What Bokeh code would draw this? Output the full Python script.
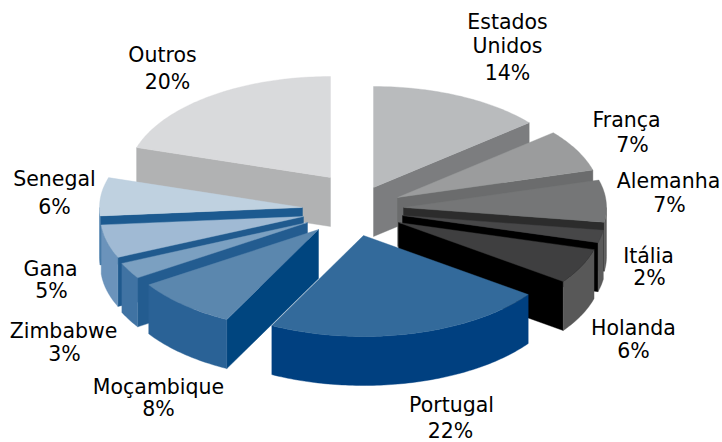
from math import sin, cos, radians
from bokeh.plotting import figure
from bokeh.models import ColumnDataSource, Range1d
from bokeh.core.properties import value
from bokeh.embed import file_html
from bokeh.resources import INLINE

# data
categories = ["Estados Unidos", "França", "Alemanha", "Itália", "Holanda", "Portugal",
              "Moçambique", "Zimbabwe", "Gana", "Senegal", "Outros"]
shares = [13.9, 6.7, 6.7, 2.0, 5.6, 22.5, 8.3, 2.6, 5.3, 6.1, 20.2]
share_labels = ["14%", "7%", "7%", "2%", "6%", "22%", "8%", "3%", "5%", "6%", "20%"]

# styles
top_colors = ["#B9BBBD", "#9B9C9D", "#757677", "#474748", "#3F3F40", "#336A9B",
              "#5B87AE", "#7BA0C1", "#A0BAD4", "#BFD1E0", "#D9DADC"]
wall_colors = ["#7C7D7F", "#6B6C6D", "#2C2C2C", "#000000", "#000000", "#003F7F",
               "#00457F", "#235C90", "#205A8E", "#1C5A90", "#B1B2B3"]
rim_colors = ["#7C7D7F", "#6B6C6D", "#5C5C5C", "#5A5A5A", "#585858", "#004080",
              "#2A6296", "#4073A3", "#6B93BB", "#4F80AE", "#B1B2B3"]
# how far each slice is pulled out of the pie (pixels, right and down)
pull = [(21, -23), (45, -13), (51, -3), (50, 5), (46, 12), (11, 25),
        (-34, 19), (-45, 12), (-49, 6), (-50, -3), (-22, -33)]
label_lines = [
    [("Estados", 507, 21), ("Unidos", 507, 45), (None, 507, 72)],
    [("França", 626, 119), (None, 632, 144)],
    [("Alemanha", 668, 180), (None, 669, 204)],
    [("Itália", 648, 255), (None, 649, 277)],
    [("Holanda", 633, 327), (None, 633, 350)],
    [("Portugal", 451, 404), (None, 450, 430)],
    [("Moçambique", 158, 386), (None, 158, 408)],
    [("Zimbabwe", 63, 330), (None, 64, 353)],
    [("Gana", 50, 268), (None, 51, 290)],
    [("Senegal", 54, 178), (None, 54, 206)],
    [("Outros", 162, 54), (None, 167, 81)],
]
CX, CY, RX, RY, DEPTH = 352, 210, 203, 101, 49

total = sum(shares)
xs, ys, fills = [], [], []


def arc(ax, ay, a0, a1, dy=0.0):
    n = max(2, int(abs(a1 - a0)) + 2)
    out = []
    for i in range(n):
        t = radians(a0 + (a1 - a0) * i / (n - 1))
        out.append((ax + RX * sin(t), ay - RY * cos(t) + dy))
    return out


def add(points, color):
    xs.append([q[0] for q in points])
    ys.append([q[1] for q in points])
    fills.append(color)


slices = []
acc = 0.0
for i, s in enumerate(shares):
    a0 = acc / total * 360
    acc += s
    a1 = acc / total * 360
    slices.append((i, a0, a1))

# painter's order: farthest slice first
for i, a0, a1 in sorted(slices, key=lambda q: -cos(radians((q[1] + q[2]) / 2))):
    ax, ay = CX + pull[i][0], CY + pull[i][1]
    # radial wall that faces the viewer
    edge = a1 if (a0 + a1) / 2 < 180 else a0
    if 0 < edge < 180 and edge == a1 or 180 < edge < 360 and edge == a0:
        c = arc(ax, ay, edge, edge + 1)[0]
        add([(ax, ay), c, (c[0], c[1] + DEPTH), (ax, ay + DEPTH)], wall_colors[i])
    # outer rim, visible only on the front half
    lo, hi = max(a0, 90), min(a1, 270)
    if hi > lo:
        add(arc(ax, ay, lo, hi) + arc(ax, ay, hi, lo, DEPTH), rim_colors[i])
    add([(ax, ay)] + arc(ax, ay, a0, a1), top_colors[i])

p = figure(width=722, height=442, output_backend="svg", toolbar_location=None,
           x_range=Range1d(0, 722), y_range=Range1d(442, 0),
           x_axis_location=None, y_axis_location=None, min_border=0,
           outline_line_color=None, background_fill_color="white",
           border_fill_color="white")
p.grid.visible = False

p.patches(xs="xs", ys="ys", fill_color="fills", line_color="fills", line_width=0.4,
          source=ColumnDataSource(dict(xs=xs, ys=ys, fills=fills)))

tx, ty, tt = [], [], []
for lines, lab in zip(label_lines, share_labels):
    for text, x, y in lines:
        tx.append(x)
        ty.append(y)
        tt.append(text if text else lab)
p.text(x="x", y="y", text="t", source=ColumnDataSource(dict(x=tx, y=ty, t=tt)),
       text_font=value("DejaVu Sans"), text_font_size="20.5px", text_color="#000000",
       text_align="center", text_baseline="middle")

open("out.html", "w").write(file_html(p, INLINE))
